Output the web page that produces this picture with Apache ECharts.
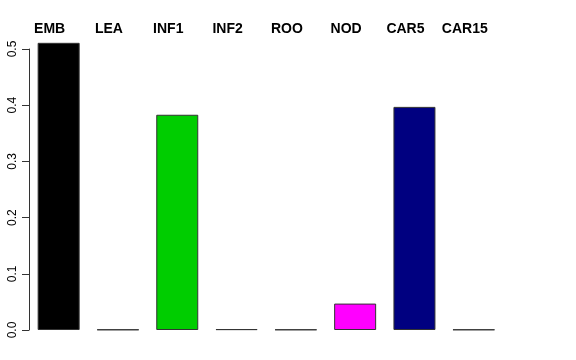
<!DOCTYPE html>
<html><head><meta charset="utf-8">
<script src="https://cdn.jsdelivr.net/npm/echarts@6/dist/echarts.min.js"></script>
<style>html,body{margin:0;padding:0;background:#fff}#c{width:576px;height:360px}</style>
</head><body><div id="c"></div>
<script>
const categories = ['EMB','LEA','INF1','INF2','ROO','NOD','CAR5','CAR15'];
const values = [0.511, 0.0008, 0.383, 0.0015, 0.0008, 0.047, 0.397, 0.0008];
const colors = ['#000000','#BEBEBE','#00CD00','#0000CD','#BEBEBE','#FF00FF','#000080','#BEBEBE'];
const yTicks = [0, 0.1, 0.2, 0.3, 0.4, 0.5];

const chart = echarts.init(document.getElementById('c'), null, {renderer:'canvas'});
chart.setOption({
  backgroundColor:'#ffffff',
  animation:false,
  grid:[
    {left:29, right:72.6, top:49, bottom:30},
    {left:20, right:81.6, top:49, bottom:30}
  ],
  xAxis:[{
    type:'category', data:categories, gridIndex:0,
    axisLine:{show:false}, axisTick:{show:false}, axisLabel:{show:false}
  },{
    type:'category', position:'top', data:categories, gridIndex:1,
    axisLine:{show:false}, axisTick:{show:false},
    axisLabel:{interval:0, hideOverlap:false, fontFamily:'Liberation Sans, Arial', fontWeight:'bold', fontSize:14, color:'#000', margin:13}
  }],
  yAxis:[{
    type:'value', min:yTicks[0], max:yTicks[yTicks.length-1], interval:0.1, gridIndex:0,
    splitLine:{show:false},
    axisLine:{show:true, lineStyle:{color:'#333', width:1}},
    axisTick:{show:true, length:7, lineStyle:{color:'#333'}},
    axisLabel:{rotate:90, fontFamily:'Liberation Sans, Arial', fontSize:12, color:'#000', margin:10,
      formatter:v=>v.toFixed(1)}
  },{
    type:'value', gridIndex:1, show:false, min:0, max:0.5
  }],
  series:[{
    type:'bar', clip:false, barWidth:42, xAxisIndex:0, yAxisIndex:0,
    data: values.map((v,i)=>({value:v, itemStyle:{color:colors[i]}})),
    itemStyle:{borderColor:'#333', borderWidth:1}
  }]
});
</script></body></html>
